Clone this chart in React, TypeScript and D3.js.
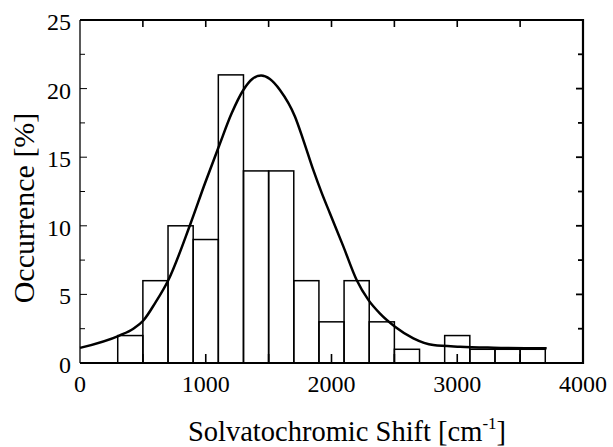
import React from "react";
import * as d3 from "d3";

const binStarts = [300, 500, 700, 900, 1100, 1300, 1500, 1700, 1900, 2100, 2300, 2500, 2900, 3100, 3300, 3500];
const binCounts = [2, 6, 10, 9, 21, 14, 14, 6, 3, 6, 3, 1, 2, 1, 1, 1];
const binWidth = 200;

const curveX = [0, 313, 424, 504, 596, 703, 875, 994, 1105, 1206, 1299, 1370, 1440, 1510, 1590, 1710, 1776, 1855, 1922, 1988, 2094, 2200, 2293, 2386, 2505, 2651, 2810, 3022, 3287, 3711];
const curveY = [1.1, 2.0, 2.5, 3.1, 4.35, 6.05, 10.06, 13.1, 15.8, 18.2, 19.9, 20.7, 20.95, 20.7, 19.9, 17.95, 16.25, 14.07, 12.4, 10.9, 8.5, 6.05, 4.6, 3.6, 2.65, 1.8, 1.31, 1.19, 1.12, 1.07];

const xTicks = [0, 1000, 2000, 3000, 4000];
const yTicks = [0, 5, 10, 15, 20, 25];

export default function App() {
  const W = 613, H = 447;
  const L = 80, R = 583, T = 20, B = 363;
  const x = d3.scaleLinear().domain([0, 4000]).range([L, R]);
  const y = d3.scaleLinear().domain([0, 25]).range([B, T]);
  const font = "'Liberation Serif', 'Times New Roman', serif";

  const line = d3.line<number>()
    .x((_, i) => x(curveX[i]))
    .y((d) => y(d))
    .curve(d3.curveMonotoneX);

  const topTicks = d3.range(500, 4000, 500);
  const minorY = d3.range(2.5, 25, 2.5);

  return (
    <svg width={W} height={H} style={{ position: "absolute", left: 0, top: 0, background: "#fff" }}>
      <rect x={0} y={0} width={W} height={H} fill="#fff" />
      {binStarts.map((s, i) => (
        <rect key={i} x={x(s)} y={y(binCounts[i])} width={x(s + binWidth) - x(s)} height={y(0) - y(binCounts[i])}
          fill="none" stroke="#000" strokeWidth={1.5} />
      ))}
      <path d={line(curveY) || ""} fill="none" stroke="#000" strokeWidth={2.5} />
      {/* frame */}
      <line x1={L} x2={L} y1={T} y2={B} stroke="#000" strokeWidth={1.3} />
      <line x1={L} x2={R} y1={T} y2={T} stroke="#000" strokeWidth={2} />
      <line x1={R} x2={R} y1={T - 1} y2={B + 1} stroke="#000" strokeWidth={2.2} />
      <line x1={L} x2={R} y1={B} y2={B} stroke="#000" strokeWidth={2.2} />
      {/* top ticks */}
      {topTicks.map((t) => (
        <line key={"tt" + t} x1={x(t)} x2={x(t)} y1={T} y2={T + 7} stroke="#000" strokeWidth={1.6} />
      ))}
      {/* bottom ticks */}
      {topTicks.map((t) => (
        <line key={"bt" + t} x1={x(t)} x2={x(t)} y1={B} y2={B - 9} stroke="#000" strokeWidth={1.6} />
      ))}
      {/* y ticks */}
      {minorY.map((v) => {
        const major = v % 5 === 0;
        const len = major ? 7 : 5;
        return (
          <g key={"yt" + v}>
            <line x1={L} x2={L + len} y1={y(v)} y2={y(v)} stroke="#000" strokeWidth={1} />
            <line x1={R} x2={R - len} y1={y(v)} y2={y(v)} stroke="#000" strokeWidth={1.8} />
          </g>
        );
      })}
      {/* tick labels */}
      {yTicks.map((v) => (
        <text key={"yl" + v} x={L - 9} y={y(v) + 10} textAnchor="end" fontFamily={font} fontSize={24}>{v}</text>
      ))}
      {xTicks.map((v) => (
        <text key={"xl" + v} x={x(v)} y={392} textAnchor="middle" fontFamily={font} fontSize={24}>{v}</text>
      ))}
      <text x={347} y={441} textAnchor="middle" fontFamily={font} fontSize={28.5}>
        Solvatochromic Shift [cm<tspan dy={-12} fontSize={17}>-1</tspan><tspan dy={12}>]</tspan>
      </text>
      <text transform={`translate(34, 208) rotate(-90)`} textAnchor="middle" fontFamily={font} fontSize={30}>
        Occurrence [%]
      </text>
    </svg>
  );
}
